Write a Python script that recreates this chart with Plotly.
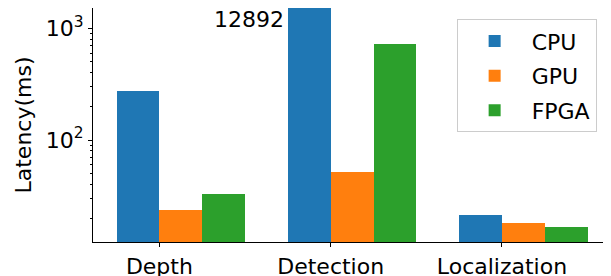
import math
import plotly.graph_objects as go

categories = ["Depth", "Detection", "Localization"]
series_names = ["CPU", "GPU", "FPGA"]
cpu = [275, 12892, 21.3]
gpu = [23.8, 51.7, 17.9]
fpga = [32.9, 720, 16.7]
colors = ["#1f77b4", "#ff7f0e", "#2ca02c"]
annotation_text = "12892"
annotation_y = 1211

bar_w = 0.25
offsets = [-0.125, 0.125, 0.375]
font = "DejaVu Sans"

fig = go.Figure()
for name, vals, col, off in zip(series_names, [cpu, gpu, fpga], colors, offsets):
    fig.add_trace(go.Bar(
        x=[i + off for i in range(len(categories))],
        y=vals, name=name, width=bar_w, legendgroup=name,
        marker=dict(color=col, line=dict(width=0)),
    ))

fig.add_annotation(x=1 + offsets[0] - bar_w / 2 - 0.013, y=math.log10(annotation_y),
                   xref="x", yref="y",
                   text=annotation_text, showarrow=False, xanchor="right",
                   yanchor="middle", font=dict(size=22, color="black", family=font))

# page body has an 8px margin; figure sized to fit the 611x276 window
fig.update_layout(
    width=603, height=268,
    margin=dict(l=85, r=0, t=0, b=34, autoexpand=False),
    plot_bgcolor="white", paper_bgcolor="white",
    font=dict(family=font, size=22, color="black"),
    bargap=0, barmode="overlay",
    showlegend=True,
    legend=dict(x=0.702, y=0.952, xanchor="left", yanchor="top",
                bgcolor="rgba(255,255,255,0.8)", bordercolor="#cccccc", borderwidth=1,
                font=dict(size=22, family=font), itemsizing="constant",
                itemwidth=64, tracegroupgap=3),
)
fig.update_xaxes(
    range=[-0.3875, -0.3875 + 518 / 171.3],
    tickvals=list(range(len(categories))), ticktext=categories,
    showline=True, linecolor="black", linewidth=1, mirror=True,
    ticks="outside", ticklen=4, tickcolor="black", showgrid=False, zeroline=False,
    tickfont=dict(size=22), automargin=False, ticklabelstandoff=1,
)
fig.update_yaxes(
    type="log", range=[1.087, 3.182],
    tickvals=[100, 1000], ticktext=["10<sup>2</sup>", "10<sup>3</sup>"],
    showline=True, linecolor="black", linewidth=1, mirror=False,
    ticks="outside", ticklen=4, tickcolor="black", showgrid=False, zeroline=False,
    tickfont=dict(size=22), automargin=False,
    minor=dict(tickvals=[20, 30, 40, 50, 60, 70, 80, 90, 200, 300, 400, 500, 600, 700, 800, 900],
               ticks="outside", ticklen=2, tickcolor="black", showgrid=False),
    title=dict(text="Latency(ms)", font=dict(size=22), standoff=8),
)

fig.write_html("out.html")
